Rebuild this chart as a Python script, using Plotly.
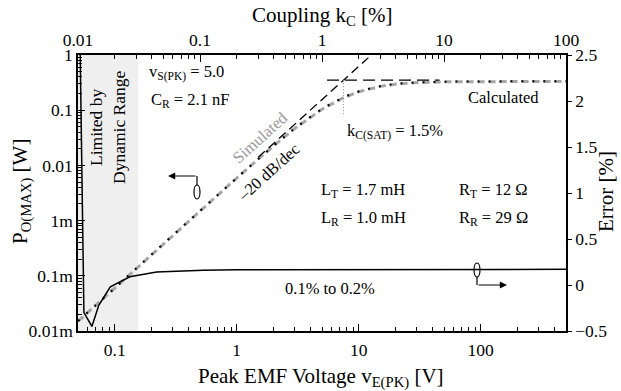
import numpy as np
import plotly.graph_objects as go

# ---------------- data ----------------
v_emf = [0.05, 0.1, 0.2, 0.5, 1, 2, 3, 5, 7.5, 10, 15, 20, 30, 50, 100, 200, 500]
p_calc = [1.51e-5, 6.0e-5, 2.42e-4, 1.5e-3, 5.9e-3, 0.0226, 0.047, 0.105, 0.17,
          0.218, 0.272, 0.298, 0.318, 0.328, 0.332, 0.333, 0.333]
p_sim = [1.5e-5, 6.0e-5, 2.4e-4, 1.5e-3, 5.9e-3, 0.0225, 0.047, 0.104, 0.168,
         0.216, 0.27, 0.296, 0.316, 0.326, 0.331, 0.332, 0.333]

asym_slope_v = [1.5, 12.0]
asym_slope_p = [0.014, 0.896]
asym_flat_v = [5.5, 46.0]
asym_flat_p = [0.35, 0.35]

ksat_v = [7.5, 7.5]
ksat_p = [0.35, 0.085]

err_v = [0.052, 0.0559, 0.065, 0.074, 0.092, 0.133, 0.22, 0.53, 1, 10, 100, 500]
err_pct = [2.6, -0.3, -0.45, -0.22, -0.02, 0.09, 0.14, 0.16, 0.165, 0.168, 0.17, 0.17]

x_range = [0.05, 500]
k_range = [0.01, 100]
y_ticks = [1e-5, 1e-4, 1e-3, 1e-2, 1e-1, 1]
y_ticktext = ["0.01m", "0.1m", "1m", "0.01", "0.1", "1"]
x_ticks = [0.1, 1, 10, 100]
k_ticks = [0.01, 0.1, 1, 10, 100]
dyn_range_v = [0.05, 0.155]

FONT = "Times New Roman, Liberation Serif, serif"
TICK_SIZE = 17.5
TITLE_SIZE = 21
NOTE_SIZE = 16.5

fig = go.Figure()

fig.add_trace(go.Scatter(x=v_emf, y=p_sim, mode="lines",
                         line=dict(color="#a6a6a6", width=3, dash="7px,4px"),
                         hoverinfo="skip", showlegend=False))
fig.add_trace(go.Scatter(x=v_emf, y=p_calc, mode="lines", line_shape="spline",
                         line=dict(color="black", width=2, dash="2px,9px"),
                         hoverinfo="skip", showlegend=False))
fig.add_trace(go.Scatter(x=asym_slope_v, y=asym_slope_p, mode="lines",
                         line=dict(color="black", width=1.3, dash="9px,5px"),
                         hoverinfo="skip", showlegend=False))
fig.add_trace(go.Scatter(x=asym_flat_v, y=asym_flat_p, mode="lines",
                         line=dict(color="black", width=1.3, dash="12px,6px"),
                         hoverinfo="skip", showlegend=False))
fig.add_trace(go.Scatter(x=ksat_v, y=ksat_p, mode="lines",
                         line=dict(color="#888888", width=1, dash="1px,2px"),
                         hoverinfo="skip", showlegend=False))
fig.add_trace(go.Scatter(x=err_v, y=err_pct, mode="lines", yaxis="y2",
                         line=dict(color="black", width=1.5),
                         hoverinfo="skip", showlegend=False))
# invisible trace to carry the top (coupling) axis
fig.add_trace(go.Scatter(x=k_range, y=[1e-5, 1], mode="lines", xaxis="x2",
                         line=dict(width=0), opacity=0,
                         hoverinfo="skip", showlegend=False))

# shaded "limited by dynamic range" region
fig.add_shape(type="rect", xref="x", yref="paper", x0=dyn_range_v[0], x1=dyn_range_v[1],
              y0=0, y1=1, fillcolor="#efefef", line=dict(width=0), layer="below")

W, H = 621, 391
L, R, T, B = 78, 566, 55, 331  # plot area in pixels


def px(x):
    return (x - L) / (R - L)


def py(y):
    return (B - y) / (B - T)


# axis arrow symbols
def ellipse(cx, cy, w=6, h=14):
    fig.add_shape(type="circle", xref="paper", yref="paper",
                  x0=px(cx - w / 2), x1=px(cx + w / 2), y0=py(cy + h / 2), y1=py(cy - h / 2),
                  line=dict(color="black", width=1.2), fillcolor="rgba(0,0,0,0)")


ellipse(197, 192)
fig.add_shape(type="line", xref="paper", yref="paper", x0=px(197), x1=px(197),
              y0=py(185), y1=py(176), line=dict(color="black", width=1.2))
fig.add_annotation(xref="paper", yref="paper", x=px(168), y=py(176), ax=29, ay=0,
                   text="", showarrow=True, arrowhead=2, arrowsize=1.2, arrowwidth=1.2,
                   arrowcolor="black")
ellipse(477, 270)
fig.add_shape(type="line", xref="paper", yref="paper", x0=px(477), x1=px(477),
              y0=py(277), y1=py(285), line=dict(color="black", width=1.2))
fig.add_annotation(xref="paper", yref="paper", x=px(507), y=py(285), ax=-30, ay=0,
                   text="", showarrow=True, arrowhead=2, arrowsize=1.2, arrowwidth=1.2,
                   arrowcolor="black")


def txt(s, x, y, anchor="left", angle=0, color="black", size=NOTE_SIZE):
    fig.add_annotation(xref="paper", yref="paper", x=px(x), y=py(y), text=s,
                       showarrow=False, xanchor=anchor, yanchor="middle",
                       textangle=angle, font=dict(family=FONT, size=size, color=color))


txt("v<sub>S(PK)</sub> = 5.0", 147, 73)
txt("C<sub>R</sub> = 2.1 nF", 149, 100)
txt("Simulated", 260, 137, anchor="center", angle=-42, color="#9a9a9a")
txt("–20 dB/dec", 268, 172, anchor="center", angle=-42)
txt("k<sub>C(SAT)</sub> = 1.5%", 345, 131)
txt("Calculated", 466, 97)
txt("L<sub>T</sub> = 1.7 mH", 319, 190)
txt("R<sub>T</sub> = 12 Ω", 457, 190)
txt("L<sub>R</sub> = 1.0 mH", 319, 218)
txt("R<sub>R</sub> = 29 Ω", 457, 218)
txt("0.1% to 0.2%", 330, 288, anchor="center")
txt("Limited by<br>Dynamic Range", 108, 128, anchor="center", angle=-90, size=17.5)

# axis titles
txt("Coupling k<sub>C</sub> [%]", 322, 16, anchor="center", size=TITLE_SIZE)
txt("Peak EMF Voltage v<sub>E(PK)</sub> [V]", 321, 377, anchor="center", size=TITLE_SIZE)
txt("P<sub>O(MAX)</sub> [W]", 21, 192, anchor="center", angle=-90, size=TITLE_SIZE)
txt("Error [%]", 606, 192, anchor="center", angle=-90, size=TITLE_SIZE)

axis_common = dict(showline=True, linecolor="black", linewidth=1.5, showgrid=False,
                   zeroline=False, tickcolor="black", automargin=False,
                   tickfont=dict(family=FONT, size=TICK_SIZE, color="black"))

fig.update_layout(
    width=W, height=H,
    margin=dict(l=L, r=W - R, t=T, b=H - B),
    paper_bgcolor="white", plot_bgcolor="white",
    font=dict(family=FONT, size=TICK_SIZE, color="black"),
    showlegend=False,
    xaxis=dict(type="log", range=[np.log10(x_range[0]), np.log10(x_range[1])],
               tickmode="array", tickvals=x_ticks, ticktext=[str(t) for t in x_ticks],
               ticks="inside", ticklen=7, ticklabelstandoff=2,
               minor=dict(ticks="inside", ticklen=4, dtick="D1", tickcolor="black", showgrid=False),
               **axis_common),
    xaxis2=dict(type="log", range=[np.log10(k_range[0]), np.log10(k_range[1])],
                overlaying="x", side="top", anchor="y",
                tickmode="array", tickvals=k_ticks, ticktext=["0.01", "0.1", "1", "10", "100"],
                ticks="inside", ticklen=7,
                minor=dict(ticks="inside", ticklen=4, dtick="D1", tickcolor="black", showgrid=False),
                **axis_common),
    yaxis=dict(type="log", range=[-5, 0],
               tickmode="array", tickvals=y_ticks, ticktext=y_ticktext,
               ticks="inside", ticklen=7,
               minor=dict(ticks="inside", ticklen=4, dtick="D1", tickcolor="black", showgrid=False),
               **axis_common),
    yaxis2=dict(overlaying="y", side="right", anchor="x", range=[-0.5, 2.5], dtick=0.5,
                ticks="outside", ticklen=4,
                **axis_common),
)

# remove the default 8px page margin so the figure sits at the window origin
fig.write_html("out.html", config={"displayModeBar": False},
               post_script="document.body.style.margin='0';")
